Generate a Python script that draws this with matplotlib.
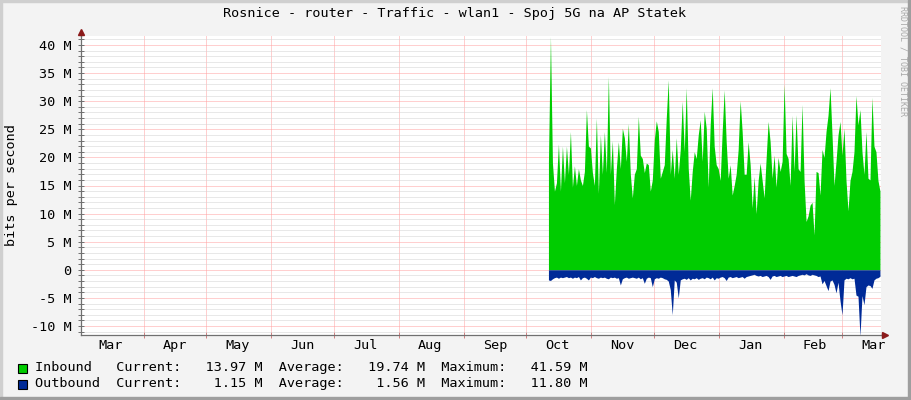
import pandas as pd
import matplotlib
matplotlib.use("Agg")
import matplotlib.pyplot as plt
import matplotlib.dates as mdates
from matplotlib.ticker import MultipleLocator, FuncFormatter, NullFormatter
from matplotlib.patches import Rectangle

TITULO = "Rosnice - router - Traffic - wlan1 - Spoj 5G na AP Statek"
ETIQUETA_Y = "bits per second"
MARCA_AGUA = "RRDTOOL / TOBI OETIKER"

# Rango del eje temporal y de los datos
EJE_INICIO = "2024-03-02"
EJE_FIN = "2025-03-19 12:00"
DATOS_INICIO = "2024-10-11 12:00"
DATOS_FIN = "2025-03-19 00:00"

# Valores (Mbit/s)
inbound = [
    19.3, 41.5, 19.0, 14.0, 15.5, 22.4, 14.0, 22.0, 15.5, 22.0,
    17.0, 24.6, 14.7, 18.5, 15.0, 18.0, 16.0, 15.0, 17.5, 28.5,
    22.0, 21.7, 17.3, 15.0, 27.0, 13.6, 24.0, 17.0, 24.6, 17.3,
    34.4, 17.0, 23.0, 11.6, 18.0, 22.8, 18.0, 25.2, 23.5, 19.3,
    26.0, 17.0, 12.8, 17.0, 18.0, 27.3, 20.4, 19.8, 17.3, 19.0,
    18.7, 14.0, 16.0, 23.1, 26.5, 24.6, 16.3, 17.5, 18.7, 27.0,
    33.8, 17.0, 21.4, 16.3, 23.5, 17.0, 21.4, 30.0, 21.0, 32.4,
    18.0, 12.4, 17.5, 21.0, 19.8, 24.0, 26.7, 19.3, 28.2, 25.2,
    14.7, 25.8, 32.4, 22.0, 18.7, 18.0, 15.9, 24.6, 32.0, 22.8,
    16.3, 18.7, 13.3, 15.0, 17.0, 21.4, 30.1, 24.6, 17.0, 17.0,
    22.8, 18.7, 11.0, 16.6, 10.0, 15.9, 19.0, 15.9, 12.8, 19.8,
    26.4, 22.8, 16.3, 20.4, 14.7, 20.0, 17.5, 19.3, 33.0, 20.7,
    19.8, 15.0, 27.5, 17.5, 27.6, 18.0, 17.5, 29.4, 15.9, 8.6,
    9.6, 11.5, 12.0, 6.2, 17.5, 17.3, 13.3, 21.4, 20.0, 24.6,
    27.5, 32.4, 24.0, 15.0, 19.3, 24.0, 26.4, 20.4, 25.2, 15.9,
    10.5, 15.9, 17.5, 21.0, 31.0, 25.8, 28.5, 21.0, 17.0, 24.6,
    16.3, 16.0, 30.7, 22.0, 21.0, 15.9, 14.0,
]

outbound = [
    1.8, 1.9, 1.6, 1.4, 1.3, 1.5, 1.3, 1.4, 1.3, 1.2,
    1.4, 1.3, 1.5, 1.3, 1.4, 1.2, 1.8, 1.4, 1.3, 1.5,
    1.8, 1.3, 1.4, 1.2, 1.4, 1.5, 1.3, 1.4, 1.3, 1.5,
    1.6, 1.3, 1.4, 1.3, 1.5, 1.4, 2.7, 1.6, 1.4, 1.3,
    1.5, 1.4, 1.3, 1.4, 1.5, 1.3, 1.6, 1.4, 2.4, 1.5,
    1.3, 1.4, 3.0, 1.6, 1.4, 1.5, 1.3, 1.4, 1.6, 1.7,
    2.0, 3.5, 8.0, 1.8, 2.2, 5.0, 1.8, 1.6, 1.5, 1.7,
    1.4, 1.8, 1.5, 1.6, 1.4, 1.7, 1.5, 1.4, 1.6, 1.3,
    1.4, 1.6, 1.3, 1.8, 1.4, 1.5, 1.3, 1.2, 1.4, 1.9,
    1.3, 1.2, 1.4, 1.3, 1.2, 1.4, 1.3, 1.2, 1.5, 1.2,
    1.1, 1.0, 0.9, 0.8, 1.0, 1.1, 1.0, 1.2, 1.1, 1.0,
    1.2, 1.7, 1.1, 1.0, 1.2, 1.1, 1.0, 1.2, 1.1, 1.0,
    1.2, 1.1, 1.0, 1.1, 1.2, 1.0, 0.9, 0.8, 0.9, 0.7,
    0.9, 1.0, 0.8, 0.9, 1.0, 1.2, 1.1, 2.5, 1.9, 2.8,
    3.7, 2.0, 1.8, 2.6, 4.1, 2.2, 5.5, 8.0, 1.8, 1.5,
    1.6, 1.4, 1.6, 1.5, 4.5, 4.7, 11.8, 4.6, 6.2, 3.0,
    2.7, 2.8, 3.3, 1.8, 1.5, 1.4, 1.15,
]

leyenda = [
    ("Inbound", "#00CC00", "13.97 M", "19.74 M", "41.59 M"),
    ("Outbound", "#002A97", "1.15 M", "1.56 M", "11.80 M"),
]

Y_MIN, Y_MAX = -11.6, 41.6

FUENTE = "DejaVu Sans Mono"
TAM = 9.7
W, H = 911, 400


def px_x(x):
    return x / W


def px_y(y):
    return 1 - y / H


def main():
    plt.rcParams["font.family"] = FUENTE
    fig = plt.figure(figsize=(W / 100, H / 100), dpi=100, facecolor="#F3F3F3")

    # Bordes tipo RRDtool
    fig.patches.append(Rectangle((0, 0), 2 / W, 1, transform=fig.transFigure, color="#CFCFCF", zorder=0))
    fig.patches.append(Rectangle((0, 1 - 2 / H), 1, 2 / H, transform=fig.transFigure, color="#CFCFCF", zorder=0))
    fig.patches.append(Rectangle((1 - 3 / W, 0), 3 / W, 1, transform=fig.transFigure, color="#9E9E9E", zorder=0))
    fig.patches.append(Rectangle((0, 0), 1, 3 / H, transform=fig.transFigure, color="#9E9E9E", zorder=0))

    izq, der, arr, aba = 81, 881, 36, 335
    ax = fig.add_axes([px_x(izq), px_y(aba), (der - izq) / W, (aba - arr) / H])
    ax.set_facecolor("white")

    t_in = pd.date_range(DATOS_INICIO, DATOS_FIN, periods=len(inbound))
    t_out = pd.date_range(DATOS_INICIO, DATOS_FIN, periods=len(outbound))
    ax.fill_between(t_in, inbound, 0, color="#00CC00", lw=0, zorder=3)
    ax.fill_between(t_out, [-v for v in outbound], 0, color="#002A97", lw=0, zorder=3)

    ax.set_xlim(pd.Timestamp(EJE_INICIO), pd.Timestamp(EJE_FIN))
    ax.set_ylim(Y_MIN, Y_MAX)

    # Rejilla
    ax.xaxis.set_major_locator(mdates.MonthLocator())
    ax.xaxis.set_major_formatter(NullFormatter())
    ax.xaxis.set_minor_locator(mdates.MonthLocator(bymonthday=16))
    ax.xaxis.set_minor_formatter(mdates.DateFormatter("%b"))
    ax.yaxis.set_major_locator(MultipleLocator(5))
    ax.yaxis.set_minor_locator(MultipleLocator(1))
    ax.yaxis.set_major_formatter(FuncFormatter(lambda v, p: "0" if abs(v) < 1e-9 else f"{int(round(v))} M"))

    punteado = (0, (1, 1))
    ax.grid(which="minor", axis="y", color="#D2D2D2", linestyle=punteado, linewidth=0.72, zorder=1)
    ax.grid(which="major", axis="y", color="#FFA0A0", linestyle=punteado, linewidth=0.72, zorder=2)
    ax.grid(which="major", axis="x", color="#FFA0A0", linestyle=punteado, linewidth=0.72, zorder=2)
    ax.set_axisbelow(True)

    for s in ["top", "right"]:
        ax.spines[s].set_visible(False)
    for s in ["left", "bottom"]:
        ax.spines[s].set_color("#707070")
        ax.spines[s].set_linewidth(0.9)
        ax.spines[s].set_zorder(5)

    ax.tick_params(axis="y", which="both", direction="inout", length=4, width=0.7, color="#707070",
                   labelsize=TAM, pad=5)
    ax.tick_params(axis="x", which="major", direction="inout", length=4, width=0.7, color="#D08080")
    ax.tick_params(axis="x", which="minor", length=0, labelsize=TAM, pad=3)

    # Flechas de los ejes
    ax.plot([0, 0], [1, 1 + 4 / 299], color="#707070", lw=0.9, transform=ax.transAxes, clip_on=False, zorder=5)
    ax.plot([1, 1 + 4 / 800], [0, 0], color="#707070", lw=0.9, transform=ax.transAxes, clip_on=False, zorder=5)
    ax.plot([0], [1 + 4 / 299], marker="^", ms=5, color="#8B1A1A", transform=ax.transAxes, clip_on=False, zorder=6)
    ax.plot([1 + 4 / 800], [0], marker=">", ms=5, color="#8B1A1A", transform=ax.transAxes, clip_on=False, zorder=6)

    # Textos
    fig.text(px_x(455), px_y(14), TITULO, ha="center", va="center", fontsize=TAM)
    fig.text(px_x(12), px_y(185), ETIQUETA_Y, ha="center", va="center", rotation=90, fontsize=TAM)
    fig.text(px_x(903), px_y(6), MARCA_AGUA, ha="center", va="top", rotation=270, fontsize=6, color="#A8A8A8")

    # Leyenda
    for i, (nombre, color, actual, media, maximo) in enumerate(leyenda):
        yc = 368 + i * 16
        fig.patches.append(Rectangle((px_x(17.5), px_y(yc + 4.5)), 9.5 / W, 9 / H, transform=fig.transFigure,
                                     facecolor=color, edgecolor="black", linewidth=0.8))
        linea = f"{nombre:<10}Current:{actual:>10}  Average:{media:>10}  Maximum:{maximo:>10}"
        fig.text(px_x(35), px_y(yc), linea, ha="left", va="center", fontsize=TAM)

    fig.savefig("out.png", dpi=100, facecolor=fig.get_facecolor())


if __name__ == "__main__":
    main()
